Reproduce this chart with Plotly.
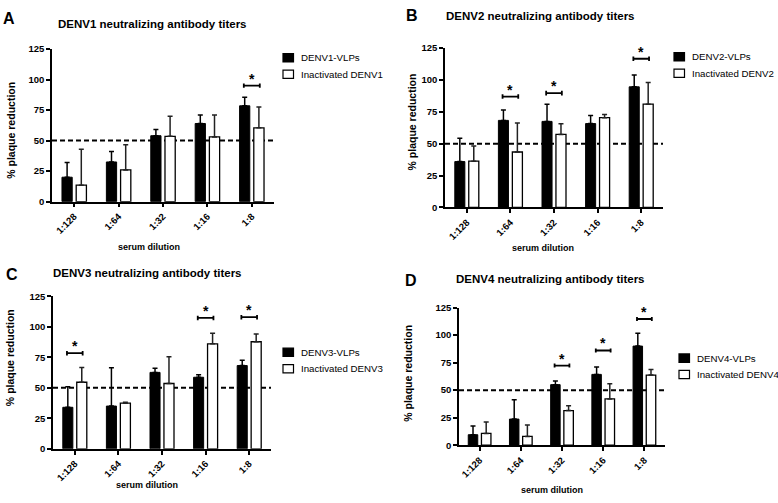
import plotly.graph_objects as go

W, H = 778, 503
FONT = "Liberation Sans, Arial, sans-serif"

dilutions = ["1:128", "1:64", "1:32", "1:16", "1:8"]
threshold = 50

# Panel A - DENV1
denv1_vlp = [20, 32.5, 54, 64, 78.5]
denv1_vlp_sd = [12, 8.5, 5, 7, 7]
denv1_inact = [13.5, 26, 53.5, 53, 60.5]
denv1_inact_sd = [29.5, 20.5, 16.5, 18, 17]
denv1_sig = {"1:8": 95}

# Panel B - DENV2
denv2_vlp = [36, 68.3, 67.5, 65.8, 94.6]
denv2_vlp_sd = [18.2, 8.1, 13.5, 6.4, 9.2]
denv2_inact = [36.3, 43.5, 57.3, 70.4, 81]
denv2_inact_sd = [12, 22.7, 8.4, 2.6, 17]
denv2_sig = {"1:64": 87, "1:32": 89.7, "1:8": 116.6}

# Panel C - DENV3
denv3_vlp = [34, 35, 62.6, 58.6, 68.2]
denv3_vlp_sd = [16.8, 31.3, 3.4, 2.1, 4.3]
denv3_inact = [54.5, 37.4, 53.5, 86, 87.7]
denv3_inact_sd = [12.1, 0.8, 21.9, 8.7, 6.4]
denv3_sig = {"1:128": 78.3, "1:16": 107.2, "1:8": 107.8}

# Panel D - DENV4
denv4_vlp = [9.5, 23.7, 55, 64.3, 90]
denv4_vlp_sd = [8, 17.5, 3.4, 6.8, 11.6]
denv4_inact = [10.7, 8, 31.4, 42, 63.7]
denv4_inact_sd = [10.3, 10.4, 4.4, 13.7, 5]
denv4_sig = {"1:32": 72.3, "1:16": 86, "1:8": 114.6}

y_ticks = [0, 25, 50, 75, 100, 125]


def px_x(p):
    return p / W


def px_y(p):
    return 1 - p / H


# layout geometry (pixels): x-left, x-right, y(0), y(125)
panels = [
    dict(letter="A", serotype="DENV1", vlp=denv1_vlp, vlp_sd=denv1_vlp_sd,
         inact=denv1_inact, inact_sd=denv1_inact_sd, sig=denv1_sig,
         box=(52, 274, 200, 44), title=(152, 18), letter_pos=(9, 12.5),
         ytitle=(11.5, 127), xtitle=(149, 246), legend=(283, 53)),
    dict(letter="B", serotype="DENV2", vlp=denv2_vlp, vlp_sd=denv2_vlp_sd,
         inact=denv2_inact, inact_sd=denv2_inact_sd, sig=denv2_sig,
         box=(445, 663, 206, 43), title=(540, 10), letter_pos=(412, 10),
         ytitle=(412, 119), xtitle=(543, 247), legend=(674, 52)),
    dict(letter="C", serotype="DENV3", vlp=denv3_vlp, vlp_sd=denv3_vlp_sd,
         inact=denv3_inact, inact_sd=denv3_inact_sd, sig=denv3_sig,
         box=(53, 271, 452.7, 296.7), title=(147, 273), letter_pos=(12, 274),
         ytitle=(10, 360), xtitle=(147, 490), legend=(283, 354)),
    dict(letter="D", serotype="DENV4", vlp=denv4_vlp, vlp_sd=denv4_vlp_sd,
         inact=denv4_inact, inact_sd=denv4_inact_sd, sig=denv4_sig,
         box=(459, 665, 449, 308.3), title=(550, 279), letter_pos=(411, 281),
         ytitle=(408, 376), xtitle=(552, 495), legend=(679, 360)),
]

SWATCH_W, SWATCH_H, ROW = 10.5, 8.5, 16.8

fig = go.Figure()
annotations = []
shapes = []

for i, p in enumerate(panels, start=1):
    sfx = "" if i == 1 else str(i)
    xa, ya = "x" + sfx, "y" + sfx
    fig.add_trace(go.Bar(
        x=dilutions, y=p["vlp"], name=p["serotype"] + "-VLPs",
        marker=dict(color="black", line=dict(color="black", width=1)),
        error_y=dict(type="data", symmetric=False, array=p["vlp_sd"],
                     arrayminus=[0] * len(dilutions), color="black",
                     thickness=1.5, width=2.5),
        xaxis=xa, yaxis=ya, offsetgroup="a", showlegend=False,
    ))
    fig.add_trace(go.Bar(
        x=dilutions, y=p["inact"], name="Inactivated " + p["serotype"],
        marker=dict(color="white", line=dict(color="black", width=1.3)),
        error_y=dict(type="data", symmetric=False, array=p["inact_sd"],
                     arrayminus=[0] * len(dilutions), color="#222",
                     thickness=1.5, width=2.5),
        xaxis=xa, yaxis=ya, offsetgroup="b", showlegend=False,
    ))
    x0, x1, yb, yt = p["box"]
    axis_common = dict(showline=True, linecolor="black", linewidth=1.5,
                       ticks="outside", ticklen=4, tickwidth=1.5,
                       tickcolor="black", showgrid=False, zeroline=False)
    fig.update_layout(**{
        "xaxis" + sfx: dict(domain=[px_x(x0), px_x(x1)], anchor=ya,
                            type="category", categoryarray=dilutions,
                            range=[-0.5, len(dilutions) - 0.5],
                            tickangle=-45,
                            tickfont=dict(family=FONT, size=9.5, color="black",
                                          weight="bold"),
                            **axis_common),
        "yaxis" + sfx: dict(domain=[px_y(yb), px_y(yt)], anchor=xa,
                            range=[0, 125], tickvals=y_ticks,
                            tickfont=dict(family=FONT, size=9.5, color="black",
                                          weight="bold"),
                            **axis_common),
    })
    # threshold line
    shapes.append(dict(type="line", xref=xa + " domain", yref=ya, x0=0, x1=1,
                       y0=threshold, y1=threshold, layer="below",
                       line=dict(color="black", width=2, dash="5px,3px")))
    # significance brackets
    for lab, lvl in p["sig"].items():
        c = dilutions.index(lab)
        half = 0.18
        tick = 1.8
        line = dict(color="black", width=1.8)
        shapes.append(dict(type="line", xref=xa, yref=ya, x0=c - half,
                           x1=c + half, y0=lvl, y1=lvl, line=line))
        for e in (c - half, c + half):
            shapes.append(dict(type="line", xref=xa, yref=ya, x0=e, x1=e,
                               y0=lvl - tick, y1=lvl + tick, line=line))
        annotations.append(dict(text="*", xref=xa, yref=ya, x=c, y=lvl,
                                yanchor="bottom", showarrow=False, yshift=-3,
                                font=dict(family=FONT, size=14, color="black",
                                          weight="bold")))
    # manual legend (swatch + label) for each panel
    lx, ly = p["legend"]
    entries = [(p["serotype"] + "-VLPs", "black"),
               ("Inactivated " + p["serotype"], "white")]
    for k, (label, fill) in enumerate(entries):
        cy = ly + k * ROW
        shapes.append(dict(type="rect", xref="paper", yref="paper",
                           x0=px_x(lx), x1=px_x(lx + SWATCH_W),
                           y0=px_y(cy + SWATCH_H / 2), y1=px_y(cy - SWATCH_H / 2),
                           fillcolor=fill, line=dict(color="black", width=1.2)))
        annotations.append(dict(text=label, xref="paper", yref="paper",
                                x=px_x(lx + SWATCH_W + 5), y=px_y(cy),
                                xanchor="left", yanchor="middle", showarrow=False,
                                font=dict(family=FONT, size=9.7, color="black")))
    # titles and labels
    annotations.append(dict(text="<b>%s neutralizing antibody titers</b>" % p["serotype"],
                            xref="paper", yref="paper",
                            x=px_x(p["title"][0]), y=px_y(p["title"][1]),
                            xanchor="center", yanchor="middle", showarrow=False,
                            font=dict(family=FONT, size=11.5, color="black")))
    annotations.append(dict(text="<b>%s</b>" % p["letter"], xref="paper", yref="paper",
                            x=px_x(p["letter_pos"][0]), y=px_y(p["letter_pos"][1]),
                            xanchor="center", yanchor="middle", showarrow=False,
                            font=dict(family=FONT, size=16, color="black")))
    annotations.append(dict(text="<b>% plaque reduction</b>", xref="paper", yref="paper",
                            x=px_x(p["ytitle"][0]), y=px_y(p["ytitle"][1]),
                            xanchor="center", yanchor="middle", textangle=-90,
                            showarrow=False,
                            font=dict(family=FONT, size=10.5, color="black")))
    annotations.append(dict(text="<b>serum dilution</b>", xref="paper", yref="paper",
                            x=px_x(p["xtitle"][0]), y=px_y(p["xtitle"][1]),
                            xanchor="center", yanchor="middle", showarrow=False,
                            font=dict(family=FONT, size=9, color="black")))

fig.update_layout(
    width=W, height=H, margin=dict(l=0, r=0, t=0, b=0),
    paper_bgcolor="white", plot_bgcolor="white",
    barmode="group", bargap=0.36, bargroupgap=0.28,
    showlegend=False, annotations=annotations, shapes=shapes,
    font=dict(family=FONT, color="black"),
)

post = (
    "document.documentElement.style.margin='0';"
    "document.body.style.margin='0';document.body.style.padding='0';"
    "document.body.style.overflow='hidden';"
    "var gd=document.getElementById('{plot_id}');"
    "gd.style.position='absolute';gd.style.left='0px';gd.style.top='0px';"
)

fig.write_html("out.html", config={"displayModeBar": False}, post_script=post)
